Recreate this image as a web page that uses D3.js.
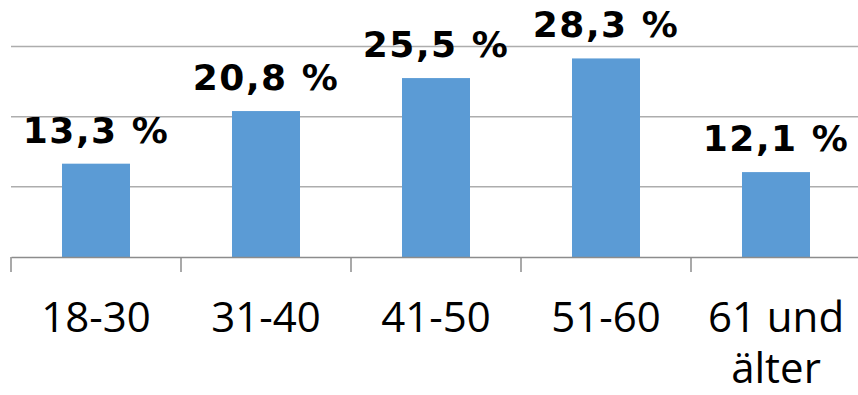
<!DOCTYPE html>
<html>
<head>
<meta charset="utf-8">
<script src="https://cdn.jsdelivr.net/npm/d3@7"></script>
<style>
  body { margin: 0; background: #fff; }
  svg { display: block; }
</style>
</head>
<body>
<script>
var categories = ["18-30", "31-40", "41-50", "51-60", "61 und älter"];
var values = [13.3, 20.8, 25.5, 28.3, 12.1];
var gridTicks = [10, 20, 30];

var width = 858,
  height = 395;

var svg = d3.select("body").append("svg")
  .attr("width", width)
  .attr("height", height);

var x = d3.scaleBand()
  .domain(categories)
  .range([11, 861])
  .paddingInner(0.6)
  .paddingOuter(0.3);

var y = d3.scaleLinear()
  .domain([0, 30])
  .range([257, 46.5]);

// gridlines
svg.selectAll(".grid")
  .data(gridTicks)
  .enter().append("line")
  .attr("class", "grid")
  .attr("x1", 11)
  .attr("x2", width)
  .attr("y1", function (d) { return y(d); })
  .attr("y2", function (d) { return y(d); })
  .attr("stroke", "#adadad")
  .attr("stroke-width", 1.5);

// bars
svg.selectAll(".bar")
  .data(values)
  .enter().append("rect")
  .attr("class", "bar")
  .attr("x", function (d, i) { return x(categories[i]); })
  .attr("width", x.bandwidth())
  .attr("y", function (d) { return y(d); })
  .attr("height", function (d) { return y(0) - y(d); })
  .attr("fill", "#5b9bd5");

// x axis
var xAxis = d3.axisBottom(x).tickSize(0).tickFormat("");
var ax = svg.append("g")
  .attr("transform", "translate(0," + y(0) + ")")
  .call(xAxis);
ax.select(".domain").attr("stroke", "#8c8c8c").attr("stroke-width", 1.5);

// category separators
svg.selectAll(".sep")
  .data(categories)
  .enter().append("line")
  .attr("class", "sep")
  .attr("x1", function (d) { return x(d) - x.bandwidth() * 0.75; })
  .attr("x2", function (d) { return x(d) - x.bandwidth() * 0.75; })
  .attr("y1", y(0))
  .attr("y2", y(0) + 15)
  .attr("stroke", "#8c8c8c")
  .attr("stroke-width", 1.5);

// category labels
svg.selectAll(".cat")
  .data(categories)
  .enter().append("text")
  .attr("class", "cat")
  .attr("text-anchor", "middle")
  .attr("font-family", "Open Sans")
  .attr("font-size", 42)
  .attr("fill", "#000")
  .each(function (d) {
    var t = d3.select(this);
    var cx = x(d) + x.bandwidth() / 2;
    var lines = d === "61 und älter" ? ["61 und", "älter"] : [d];
    lines.forEach(function (l, i) {
      t.append("tspan")
        .attr("x", cx)
        .attr("y", 332 + i * 51)
        .text(l);
    });
  });

// value labels
svg.selectAll(".val")
  .data(values)
  .enter().append("text")
  .attr("class", "val")
  .attr("x", function (d, i) { return x(categories[i]) + x.bandwidth() / 2; })
  .attr("y", function (d) { return y(d) - 21; })
  .attr("text-anchor", "middle")
  .attr("font-family", "DejaVu Sans")
  .attr("font-weight", "bold")
  .attr("font-size", 36)
  .attr("letter-spacing", 1.5)
  .attr("fill", "#000")
  .text(function (d) { return d.toFixed(1).replace(".", ",") + " %"; });
</script>
</body>
</html>
